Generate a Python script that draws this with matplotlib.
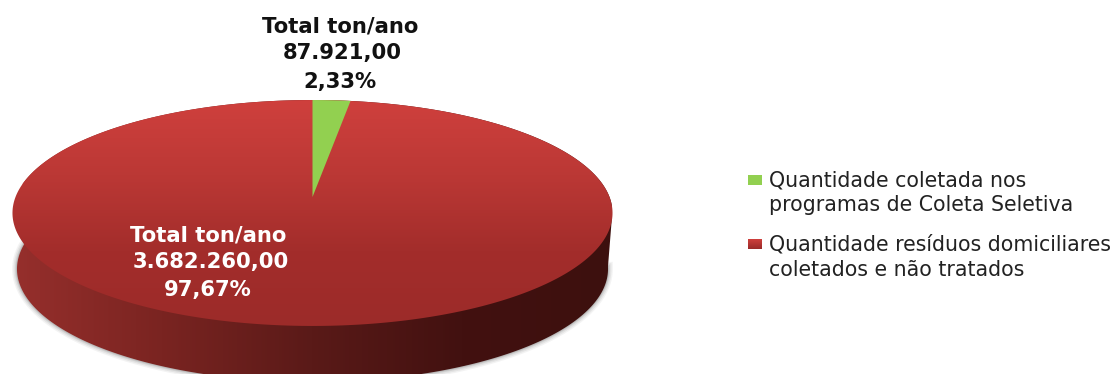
import numpy as np
import matplotlib
matplotlib.use("Agg")
import matplotlib.pyplot as plt
from matplotlib.colors import LinearSegmentedColormap
from matplotlib.patches import Polygon, Rectangle

# dados
categorias = ["Quantidade coletada nos\nprogramas de Coleta Seletiva",
              "Quantidade resíduos domiciliares\ncoletados e não tratados"]
valores = [87921.00, 3682260.00]
rotulos_valor = ["87.921,00", "3.682.260,00"]
rotulos_pct = ["2,33%", "97,67%"]

VERDE = "#92d050"
TOPO = ["#cf403d", "#bb3835", "#a32d2b", "#9c2b29"]
LATERAL = ["#962f2c", "#7a2421", "#5a1a18", "#421110", "#3d100e"]


def projeta(ang, cx=312.5, cy=197.0, a=297.0, b=110.7, k=0.1416, dy=0.0, esc=1.0):
    # circulo da pizza em perspectiva; ang em graus, horario a partir do topo
    u = np.sin(np.radians(ang))
    v = np.cos(np.radians(ang))
    d = 1 + k * v
    return np.column_stack([cx + esc * a * u / d, cy + dy - b * v / d])


def gradiente(ax, cores, extent, clip, vertical=True):
    cmap = LinearSegmentedColormap.from_list("g", cores)
    g = np.linspace(0, 1, 256)
    g = g[:, None] if vertical else g[None, :]
    im = ax.imshow(g, cmap=cmap, extent=extent, aspect="auto", origin="upper", zorder=clip.get_zorder())
    im.set_clip_path(clip)


fig = plt.figure(figsize=(11.15, 3.74), dpi=100)
ax = fig.add_axes([0, 0, 1, 1])

ang = np.linspace(0, 360, 361)
contorno = projeta(ang)

# lateral do disco: contorno de cima somado ao de baixo
baixo = projeta(np.linspace(90, 270, 181) + 7, dy=56, esc=0.985)
cima_esq = projeta(np.linspace(277, 360, 84))
cima_dir = projeta(np.linspace(0, 97, 98))
corpo = np.vstack([cima_esq, cima_dir, baixo])

# sombra difusa so na borda de baixo
for larg, alfa in [(7, 0.07), (5, 0.10), (3, 0.14), (1.5, 0.2)]:
    ax.plot(baixo[:, 0], baixo[:, 1], color="#606060", lw=larg, alpha=alfa, zorder=1)

lateral = Polygon(corpo, closed=True, fc="none", ec="none", zorder=2)
ax.add_patch(lateral)
gradiente(ax, LATERAL, (12, 612, 380, 100), lateral, vertical=False)

# face de cima
face = Polygon(contorno, closed=True, fc="none", ec="none", zorder=3)
ax.add_patch(face)
gradiente(ax, TOPO, (0, 630, 326, 100), face)

# fatia verde a partir do valor
ang_fatia = 360 * valores[0] / sum(valores)
arco = projeta(np.linspace(0, ang_fatia, 30))
fatia = np.vstack([[312.5, 197.0], arco])
ax.add_patch(Polygon(fatia, closed=True, fc=VERDE, ec="none", zorder=4))

# rotulos
y_rot = [[26, 53, 82], [235, 262, 290]]
x_rot = [[340, 342, 340], [208, 210.5, 208]]
cor_rot = ["#111111", "white"]
for i in range(2):
    linhas = ["Total ton/ano", rotulos_valor[i], rotulos_pct[i]]
    for x, y, linha in zip(x_rot[i], y_rot[i], linhas):
        ax.text(x, y, linha, ha="center", va="center", color=cor_rot[i],
                fontsize=15.2, fontweight="bold", family="DejaVu Sans", zorder=5)

# legenda
y_leg = [(180, 205), (244, 270)]
for i, nome in enumerate(categorias):
    l1, l2 = nome.split("\n")
    y1, y2 = y_leg[i]
    if i == 0:
        ax.add_patch(Rectangle((748, y1 - 5), 14, 10, fc=VERDE, ec="none", zorder=5))
    else:
        q = Rectangle((748, y1 - 5), 14, 10, fc="none", ec="none", zorder=5)
        ax.add_patch(q)
        gradiente(ax, ["#cf403d", "#992a28"], (748, 762, y1 + 5, y1 - 5), q)
    ax.text(769, y1, l1, ha="left", va="center", color="#222222", fontsize=14.8, family="DejaVu Sans", zorder=5)
    ax.text(769, y2, l2, ha="left", va="center", color="#222222", fontsize=14.8, family="DejaVu Sans", zorder=5)

ax.set_xlim(0, 1115)
ax.set_ylim(374, 0)
ax.axis("off")

fig.savefig("out.png", dpi=100, facecolor="white")
